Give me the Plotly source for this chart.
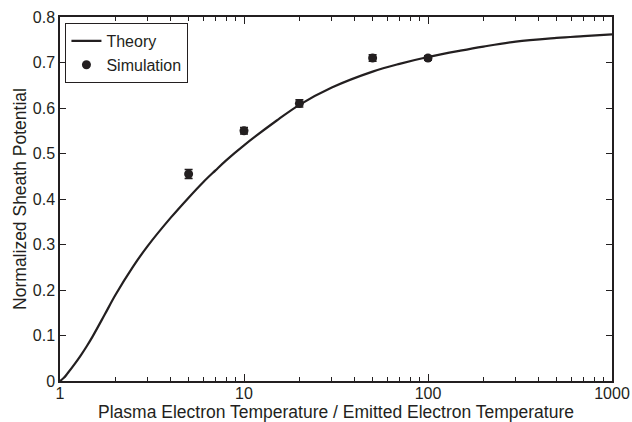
import plotly.graph_objects as go

# Theory curve
theory_x = [1, 1.05, 1.1, 1.2, 1.3, 1.4, 1.5, 1.75, 2, 2.5, 3, 4, 5, 6, 7, 8, 10, 15, 20, 30,
            50, 70, 100, 150, 200, 300, 500, 700, 1000]
theory_y = [0.0, 0.007, 0.017, 0.037, 0.057, 0.077, 0.097, 0.146, 0.189, 0.252, 0.297, 0.359,
            0.403, 0.437, 0.463, 0.485, 0.518, 0.572, 0.607, 0.645, 0.680, 0.697, 0.712,
            0.726, 0.735, 0.746, 0.754, 0.758, 0.762]

# Simulation points
sim_x = [5, 10, 20, 50, 100]
sim_y = [0.455, 0.550, 0.610, 0.710, 0.710]
sim_err = [0.010, 0.007, 0.008, 0.007, 0.005]

x_tickvals = [1, 10, 100, 1000]
x_ticktext = ["1", "10", "100", "1000"]

ink = "#231f20"
font = "Liberation Sans, Arial, sans-serif"

fig = go.Figure()
fig.add_trace(go.Scatter(x=theory_x, y=theory_y, mode="lines", name="Theory",
                         line=dict(color=ink, width=2.2, shape="spline", smoothing=1.0)))
fig.add_trace(go.Scatter(x=sim_x, y=sim_y, mode="markers", name="Simulation",
                         marker=dict(color=ink, size=9),
                         error_y=dict(type="data", array=sim_err, color=ink,
                                      thickness=1.5, width=4)))

fig.update_layout(
    width=632, height=422,
    margin=dict(l=60, r=20, t=17, b=41),
    paper_bgcolor="white", plot_bgcolor="white",
    font=dict(family=font, size=16, color=ink),
    showlegend=True,
    legend=dict(x=0.0095, y=0.984, xanchor="left", yanchor="top",
                bordercolor=ink, borderwidth=1.2, bgcolor="white",
                font=dict(size=16), tracegroupgap=0, itemwidth=30),
    xaxis=dict(type="log", range=[0, 3], tickvals=x_tickvals, ticktext=x_ticktext,
               ticks="inside", ticklen=7, tickcolor=ink, tickwidth=1,
               showline=True, linecolor=ink, linewidth=1.5, mirror="ticks",
               showgrid=False, zeroline=False, automargin=False,
               ticklabelstandoff=-3,
               minor=dict(ticks="inside", ticklen=4, tickcolor=ink, showgrid=False,
                          tickvals=[2, 3, 4, 5, 6, 7, 8, 9, 20, 30, 40, 50, 60, 70, 80, 90,
                                    200, 300, 400, 500, 600, 700, 800, 900]),
               title=dict(text="Plasma Electron Temperature / Emitted Electron Temperature",
                          font=dict(size=17.5), standoff=3),
               tickfont=dict(size=16)),
    yaxis=dict(range=[0, 0.8], dtick=0.1, tick0=0,
               ticks="inside", ticklen=6, tickcolor=ink, tickwidth=1,
               showline=True, linecolor=ink, linewidth=1.5, mirror="ticks",
               showgrid=False, zeroline=False, automargin=False,
               title=dict(text="Normalized Sheath Potential", font=dict(size=17.5), standoff=2),
               tickfont=dict(size=16)),
)

fig.write_html("out.html", config={"displayModeBar": False},
               post_script="document.body.style.margin='0';document.body.style.overflow='hidden';")
